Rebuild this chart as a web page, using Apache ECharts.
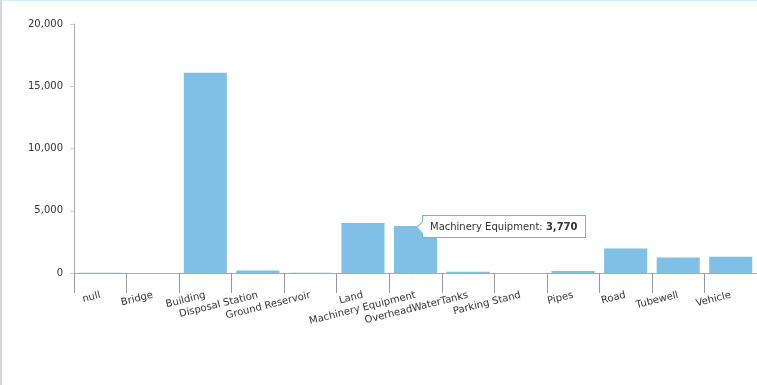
<!DOCTYPE html>
<html>
<head>
<meta charset="utf-8">
<script src="https://cdn.jsdelivr.net/npm/echarts@6/dist/echarts.min.js"></script>
<style>
html, body { margin: 0; padding: 0; background: #fff; }
#main { width: 757px; height: 385px; box-sizing: border-box; border-top: 1px solid #c8f4fb; border-left: 2px solid #d6d6d6; }
</style>
</head>
<body>
<div id="main"></div>
<script>
var categories = ['null', 'Bridge', 'Building', 'Disposal Station', 'Ground Reservoir', 'Land',
    'Machinery Equipment', 'OverheadWaterTanks', 'Parking Stand', 'Pipes', 'Road', 'Tubewell', 'Vehicle'];
var values = [30, 0, 16080, 210, 30, 4010, 3770, 110, 0, 160, 1970, 1250, 1300];
var yTicks = [0, 5000, 10000, 15000, 20000];
var tipIndex = 6;

var dom = document.getElementById('main');
var myChart = echarts.init(dom);
var font = 'Verdana, "DejaVu Sans", sans-serif';

var option = {
    animation: false,
    textStyle: { fontFamily: font },
    grid: { left: 72, right: 0, top: 23, bottom: 112 },
    tooltip: {
        trigger: 'item',
        triggerOn: 'none',
        alwaysShowContent: true,
        backgroundColor: '#fff',
        borderColor: '#6cbcbc',
        borderWidth: 1,
        borderRadius: 0,
        padding: [3, 7],
        extraCssText: 'box-shadow:none;',
        textStyle: { color: '#333', fontSize: 10, fontFamily: font },
        position: function () { return [420, 214]; },
        formatter: function (p) {
            return '<span style="position:absolute;left:-5px;top:7px;width:8px;height:8px;background:#fff;' +
                'border-left:1px solid #6cbcbc;border-bottom:1px solid #6cbcbc;transform:rotate(45deg);"></span>' +
                p.name + ': <b>' + echarts.format.addCommas(p.value) + '</b>';
        }
    },
    xAxis: {
        type: 'category',
        data: categories,
        axisLine: { show: true, lineStyle: { color: '#aaa' } },
        axisTick: { show: true, interval: 0, length: 20, lineStyle: { color: '#999', width: 1 } },
        axisLabel: { rotate: 14, color: '#333', fontSize: 10, margin: 22, interval: 0 }
    },
    yAxis: {
        type: 'value',
        min: yTicks[0],
        max: yTicks[yTicks.length - 1],
        interval: 5000,
        splitLine: { show: false },
        axisLine: { show: true, lineStyle: { color: '#aaa' } },
        axisTick: { show: true, length: 4, lineStyle: { color: '#ccc' } },
        axisLabel: {
            color: '#333', fontSize: 10, margin: 11,
            formatter: function (v) { return echarts.format.addCommas(v); }
        }
    },
    series: [{
        type: 'bar',
        data: values,
        barCategoryGap: '18%',
        itemStyle: { color: '#80c0e6' }
    }]
};

myChart.setOption(option);
myChart.dispatchAction({ type: 'showTip', seriesIndex: 0, dataIndex: tipIndex });
</script>
</body>
</html>
